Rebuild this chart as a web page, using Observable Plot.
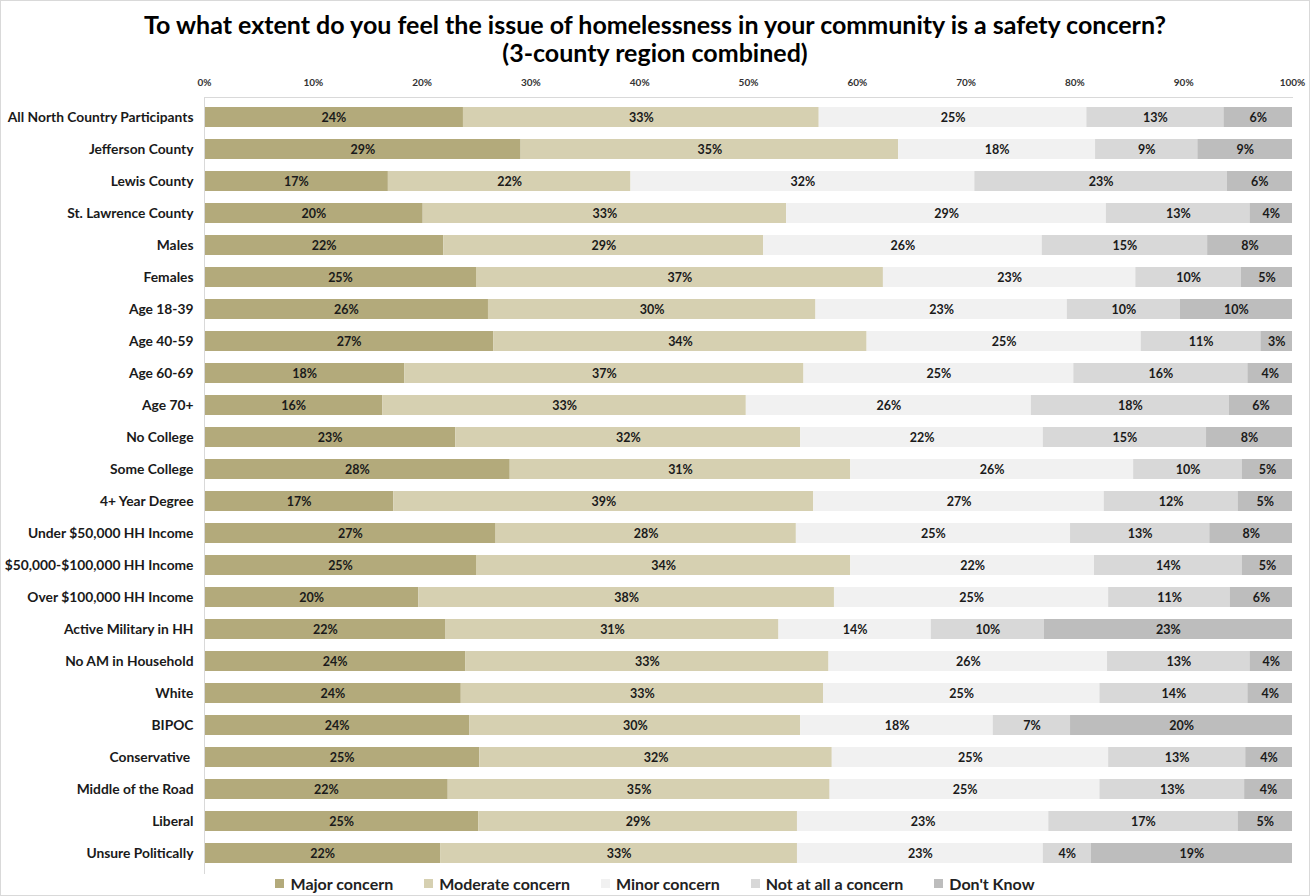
<!DOCTYPE html>
<html>
<head>
<meta charset="utf-8">
<script src="https://cdn.jsdelivr.net/npm/d3@7"></script>
<script src="https://cdn.jsdelivr.net/npm/@observablehq/plot@0.6"></script>
<style>
  html, body { margin: 0; padding: 0; background: #fff; overflow: hidden; }
  #wrap { width: 1308px; height: 894px; border: 1px solid #d9d9d9; position: relative; font-family: Lato, "Open Sans", sans-serif; }
  #title { padding-top: 9px; height: 58px; text-align: center; font-weight: bold; font-size: 25px; line-height: 28px; color: #000; }
  #chart svg { display: block; }
  #chart g[aria-label="y-axis tick label"] text { font-weight: bold; font-size: 13.8px; fill: #1a1a1a; }
  #chart g[aria-label="x-axis tick label"] text { font-weight: bold; font-size: 10px; fill: #333; }
  #legend { position: absolute; left: 0; right: 0; top: 871px; display: flex; justify-content: center; align-items: center; gap: 31px; height: 22px; font-weight: bold; font-size: 16px; color: #222; }
  #legend .item { display: flex; align-items: center; gap: 6px; }
  #legend .sw { width: 9px; height: 9px; display: inline-block; }
</style>
</head>
<body>
<div id="wrap">
  <div id="title">To what extent do you feel the issue of homelessness in your community is a safety concern?<br>(3-county region combined)</div>
  <div id="chart"></div>
  <div id="legend"></div>
</div>
<script>
const groups = [
  "All North Country Participants", "Jefferson County", "Lewis County", "St. Lawrence County",
  "Males", "Females", "Age 18-39", "Age 40-59", "Age 60-69", "Age 70+",
  "No College", "Some College", "4+ Year Degree", "Under $50,000 HH Income",
  "$50,000-$100,000 HH Income", "Over $100,000 HH Income", "Active Military in HH",
  "No AM in Household", "White", "BIPOC", "Conservative ", "Middle of the Road",
  "Liberal", "Unsure Politically"
];
const categories = ["Major concern", "Moderate concern", "Minor concern", "Not at all a concern", "Don't Know"];
const colors = ["#b3aa7b", "#d6d0b1", "#f1f1f1", "#d8d8d8", "#bdbdbd"];

const major    = [23.8, 29.1, 16.9, 20.1, 22.0, 25.0, 26.1, 26.6, 18.4, 16.4, 23.1, 28.1, 17.4, 26.8, 25.0, 19.7, 22.2, 24.0, 23.6, 24.4, 25.3, 22.4, 25.2, 21.7];
const moderate = [32.7, 34.7, 22.3, 33.4, 29.4, 37.4, 30.1, 34.3, 36.7, 33.4, 31.7, 31.3, 38.6, 27.6, 34.4, 38.2, 30.6, 33.4, 33.3, 30.4, 32.4, 35.1, 29.3, 32.8];
const minor    = [24.6, 18.1, 31.6, 29.4, 25.6, 23.2, 23.1, 25.2, 24.8, 26.2, 22.3, 26.0, 26.7, 25.2, 22.4, 25.2, 14.0, 25.6, 25.4, 17.7, 25.4, 24.8, 23.1, 22.6];
const notAtAll = [12.6, 9.4, 23.2, 13.2, 15.2, 9.7, 10.4, 11.0, 16.0, 18.2, 15.0, 10.0, 12.3, 12.8, 13.6, 11.2, 10.4, 13.1, 13.6, 7.1, 12.6, 13.3, 17.4, 4.4];
const dontKnow = [6.3, 8.7, 6.0, 3.9, 7.8, 4.7, 10.3, 2.9, 4.1, 5.8, 7.9, 4.6, 5.0, 7.6, 4.6, 5.7, 22.8, 3.9, 4.1, 20.4, 4.3, 4.4, 5.0, 18.5];
const xTicks = [0, 10, 20, 30, 40, 50, 60, 70, 80, 90, 100];

const series = [major, moderate, minor, notAtAll, dontKnow];
const data = groups.flatMap((g, i) => categories.map((c, j) => ({group: g, category: c, value: series[j][i]})));

const chart = Plot.plot({
  width: 1308,
  height: 811,
  marginLeft: 203,
  marginRight: 17,
  marginTop: 29,
  marginBottom: 6,
  style: {fontFamily: "Lato, 'Open Sans', sans-serif", background: "#fff"},
  x: {domain: [0, 100], axis: "top", ticks: xTicks, tickFormat: d => d + "%", label: null, tickSize: 0, tickPadding: 12},
  y: {domain: groups, label: null, paddingInner: 0.38, paddingOuter: 0.25, tickSize: 0, tickPadding: 11},
  color: {domain: categories, range: colors},
  marks: [
    Plot.barX(data, Plot.stackX({x: "value", y: "group", fill: "category", order: categories})),
    Plot.text(data, Plot.stackX({x: "value", y: "group", z: "category", order: categories,
      text: d => Math.round(d.value) + "%", fill: "#1a1a1a", fontWeight: "bold", fontSize: 12.5})),
    Plot.frame({anchor: "top", stroke: "#d9d9d9"}),
    Plot.frame({anchor: "left", stroke: "#d9d9d9"})
  ]
});
document.getElementById("chart").appendChild(chart);

const legend = d3.select("#legend");
categories.forEach((c, i) => {
  const it = legend.append("div").attr("class", "item");
  it.append("span").attr("class", "sw").style("background", colors[i]);
  it.append("span").text(c);
});
</script>
</body>
</html>
